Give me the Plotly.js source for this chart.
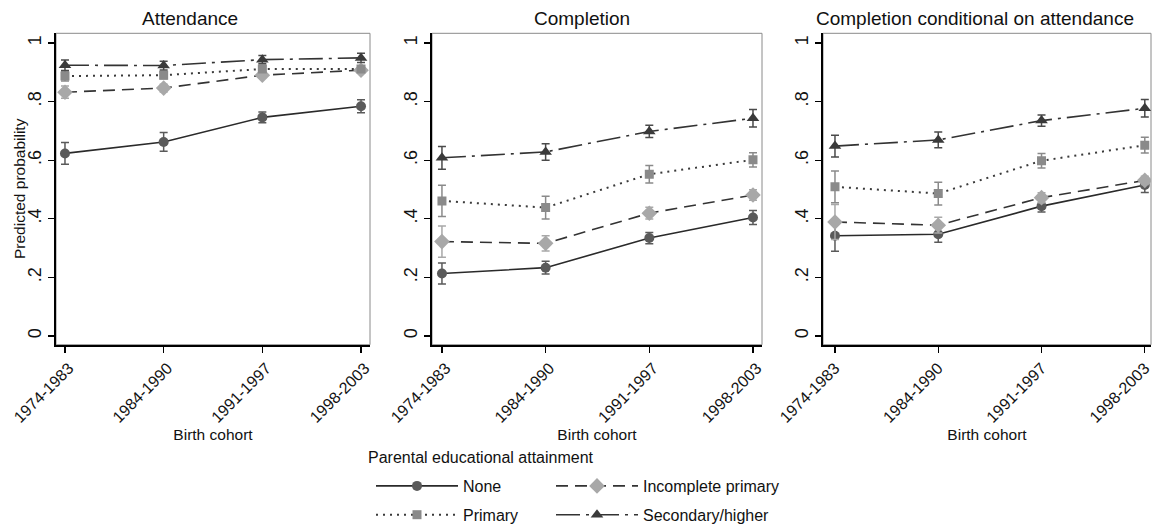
<!DOCTYPE html>
<html>
<head>
<meta charset="utf-8">
<script src="https://cdn.plot.ly/plotly-3.0.1.min.js"></script>
<style>html,body{margin:0;padding:0;background:#fff;}#chart{width:1152px;height:532px;}</style>
</head>
<body>
<div id="chart"></div>
<script>
// ---- data ----
const cohorts = ["1974-1983", "1984-1990", "1991-1997", "1998-2003"];
const groupNames = ["None", "Incomplete primary", "Primary", "Secondary/higher"];
const panelTitles = ["Attendance", "Completion", "Completion conditional on attendance"];
const legendTitle = "Parental educational attainment";
const xTitle = "Birth cohort";
const yTitle = "Predicted probability";
const yTickVals = [0, 0.2, 0.4, 0.6, 0.8, 1];
const yTickText = ["0", ".2", ".4", ".6", ".8", "1"];

// Attendance
const attNone = [0.623, 0.662, 0.746, 0.784];
const attNoneErr = [0.037, 0.032, 0.018, 0.022];
const attIncomplete = [0.832, 0.846, 0.890, 0.907];
const attIncompleteErr = [0.021, 0.013, 0.010, 0.010];
const attPrimary = [0.887, 0.890, 0.911, 0.911];
const attPrimaryErr = [0.017, 0.012, 0.010, 0.010];
const attSecondary = [0.924, 0.923, 0.943, 0.949];
const attSecondaryErr = [0.018, 0.015, 0.014, 0.016];

// Completion
const compNone = [0.213, 0.233, 0.334, 0.404];
const compNoneErr = [0.036, 0.022, 0.019, 0.024];
const compIncomplete = [0.322, 0.316, 0.419, 0.481];
const compIncompleteErr = [0.053, 0.026, 0.020, 0.018];
const compPrimary = [0.461, 0.438, 0.552, 0.601];
const compPrimaryErr = [0.053, 0.039, 0.030, 0.024];
const compSecondary = [0.608, 0.628, 0.698, 0.743];
const compSecondaryErr = [0.039, 0.028, 0.021, 0.030];

// Completion conditional on attendance
const condNone = [0.342, 0.347, 0.443, 0.515];
const condNoneErr = [0.053, 0.027, 0.020, 0.025];
const condIncomplete = [0.389, 0.378, 0.472, 0.531];
const condIncompleteErr = [0.060, 0.027, 0.017, 0.014];
const condPrimary = [0.509, 0.486, 0.598, 0.651];
const condPrimaryErr = [0.054, 0.039, 0.025, 0.027];
const condSecondary = [0.648, 0.669, 0.735, 0.777];
const condSecondaryErr = [0.037, 0.027, 0.019, 0.030];

// ---- styling ----
const FONT = "Liberation Sans, Arial, sans-serif";
const styles = [
  {line: {color: "#2a2a2a", width: 1.6, dash: "solid"}, marker: {symbol: "circle", size: 10, color: "#5a5a5a"}, err: "#5a5a5a", legend: "legend"},
  {line: {color: "#333333", width: 1.6, dash: "12px,7px"}, marker: {symbol: "diamond", size: 12, color: "#a8a8a8"}, err: "#a8a8a8", legend: "legend2"},
  {line: {color: "#3a3a3a", width: 2, dash: "2px,5px"}, marker: {symbol: "square", size: 9, color: "#8a8a8a"}, err: "#8a8a8a", legend: "legend"},
  {line: {color: "#333333", width: 1.6, dash: "24px,6px,3px,6px"}, marker: {symbol: "triangle-up", size: 11, color: "#3a3a3a"}, err: "#4a4a4a", legend: "legend2"}
];

const panels = [
  {vals: [attNone, attIncomplete, attPrimary, attSecondary], errs: [attNoneErr, attIncompleteErr, attPrimaryErr, attSecondaryErr]},
  {vals: [compNone, compIncomplete, compPrimary, compSecondary], errs: [compNoneErr, compIncompleteErr, compPrimaryErr, compSecondaryErr]},
  {vals: [condNone, condIncomplete, condPrimary, condSecondary], errs: [condNoneErr, condIncompleteErr, condPrimaryErr, condSecondaryErr]}
];

const traces = [];
panels.forEach((p, pi) => {
  const sfx = pi === 0 ? "" : String(pi + 1);
  p.vals.forEach((v, gi) => {
    const s = styles[gi];
    traces.push({
      type: "scatter", mode: "lines+markers",
      x: cohorts, y: v,
      name: groupNames[gi],
      legendgroup: groupNames[gi],
      legend: s.legend,
      showlegend: pi === 0,
      xaxis: "x" + sfx, yaxis: "y" + sfx,
      line: s.line,
      marker: s.marker,
      error_y: {type: "data", array: p.errs[gi], visible: true, color: s.err, thickness: 1.5, width: 4},
      hoverinfo: "x+y+name"
    });
  });
});

// ---- layout ----
const W = 1152, H = 532;
const plotTop = 34, plotBottom = 352;
const xDomainsPx = [[56, 370], [432, 762], [823, 1151]];
const xRanges = [[-0.091, 3.091], [-0.096, 3.087], [-0.116, 3.06]];
const labelShifts = [4, 4, 0];
const yDomain = [1 - plotBottom / H, 1 - plotTop / H];
const titleCentersPx = [190, 582, 975];

const legendCommon = {
  xanchor: "left", yanchor: "top", orientation: "v",
  font: {family: FONT, size: 16, color: "#111"},
  tracegroupgap: 5, bgcolor: "rgba(0,0,0,0)", itemwidth: 82
};

const layout = {
  width: W, height: H,
  margin: {l: 0, r: 0, t: 0, b: 0},
  paper_bgcolor: "#ffffff", plot_bgcolor: "#ffffff",
  font: {family: FONT, size: 15, color: "#111111"},
  showlegend: true,
  legend: Object.assign({x: 371 / W, y: 1 - 479 / H}, legendCommon),
  legend2: Object.assign({x: 551 / W, y: 1 - 479 / H}, legendCommon),
  annotations: [
    {
      text: legendTitle, xref: "paper", yref: "paper",
      x: 366 / W, y: 1 - 467 / H, xanchor: "left", yanchor: "middle",
      showarrow: false, font: {family: FONT, size: 16, color: "#111"}
    },
    {
      text: yTitle, xref: "paper", yref: "paper", textangle: -90,
      x: 19 / W, y: 1 - 193 / H, xanchor: "center", yanchor: "middle",
      showarrow: false, font: {family: FONT, size: 15.5, color: "#111"}
    }
  ],
  shapes: []
};

xDomainsPx.forEach((d, i) => {
  const sfx = i === 0 ? "" : String(i + 1);
  layout["xaxis" + sfx] = {
    domain: [d[0] / W, d[1] / W],
    anchor: "y" + sfx,
    type: "category",
    range: xRanges[i],
    showgrid: false, zeroline: false,
    showline: true, linecolor: "#000", linewidth: 2,
    ticks: "outside", ticklen: 6, tickwidth: 1.2, tickcolor: "#000",
    tickangle: -45, ticklabelshift: labelShifts[i],
    tickfont: {family: FONT, size: 16, color: "#111"},
    title: {text: xTitle, font: {family: FONT, size: 15.5, color: "#111"}, standoff: 4},
    automargin: false, fixedrange: true
  };
  layout["yaxis" + sfx] = {
    domain: yDomain,
    anchor: "x" + sfx,
    range: [-0.030, 1.033],
    tickvals: yTickVals, ticktext: yTickText,
    showgrid: false, zeroline: false,
    showline: true, linecolor: "#000", linewidth: 2,
    ticks: "outside", ticklen: 6, tickwidth: 1.2, tickcolor: "#000",
    tickangle: -90,
    tickfont: {family: FONT, size: 18, color: "#111"},
    title: {text: ""},
    automargin: false, fixedrange: true
  };
  layout.shapes.push({
    type: "rect", xref: "x" + sfx + " domain", yref: "y" + sfx + " domain",
    x0: 0, x1: 1, y0: 0, y1: 1, line: {color: "#8a8a8a", width: 1}, layer: "below"
  });
  layout.annotations.push({
    text: panelTitles[i], xref: "paper", yref: "paper",
    x: titleCentersPx[i] / W, y: 1 - 19 / H, xanchor: "center", yanchor: "middle",
    showarrow: false, font: {family: FONT, size: 19, color: "#111"}
  });
});

Plotly.newPlot("chart", traces, layout, {displayModeBar: false, staticPlot: true});
</script>
</body>
</html>
